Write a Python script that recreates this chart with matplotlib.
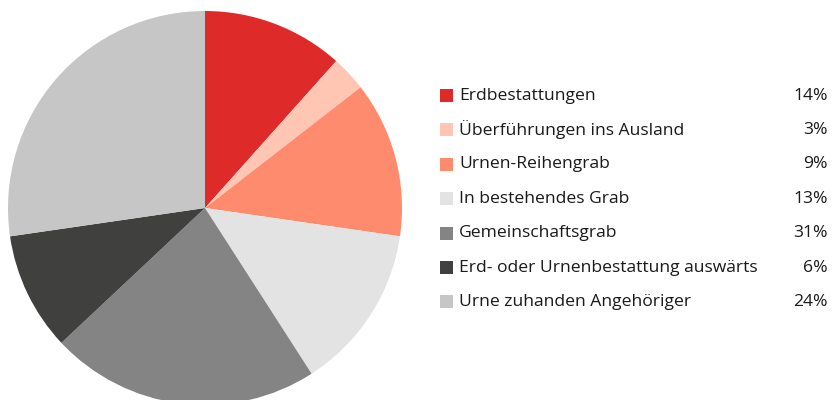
import matplotlib
matplotlib.use("Agg")
import matplotlib.pyplot as plt
from matplotlib.patches import Rectangle

plt.rcParams["font.family"] = ["Open Sans", "DejaVu Sans"]

labels = ["Erdbestattungen", "Überführungen ins Ausland", "Urnen-Reihengrab",
          "In bestehendes Grab", "Gemeinschaftsgrab",
          "Erd- oder Urnenbestattung auswärts", "Urne zuhanden Angehöriger"]
# legend percentages as printed
pct_labels = ["14%", "3%", "9%", "13%", "31%", "6%", "24%"]
# slice sizes as drawn in the picture (they differ from the printed numbers)
slice_vals = [11.6, 2.9, 12.8, 13.6, 22.1, 9.7, 27.3]
colors = ["#df2a2a", "#ffc7b3", "#ff8b6f", "#e3e3e3", "#848484", "#40403f", "#c6c6c6"]

W, H = 833, 400
fig = plt.figure(figsize=(W / 100, H / 100), dpi=100)

# pie: centre (205,208), radius 197 px
ax = fig.add_axes([8 / W, (H - 405) / H, 394 / W, 394 / H])
ax.pie(slice_vals, colors=colors, startangle=90, counterclock=False,
       radius=1, wedgeprops=dict(linewidth=0))
ax.set_xlim(-1, 1); ax.set_ylim(-1, 1)
ax.set_aspect("equal")
ax.axis("off")

# legend in pixel coords
lg = fig.add_axes([0, 0, 1, 1])
lg.set_xlim(0, W); lg.set_ylim(H, 0); lg.axis("off")
y0, dy = 95.5, 34.4
for i, (lab, p, c) in enumerate(zip(labels, pct_labels, colors)):
    y = y0 + i * dy
    lg.add_patch(Rectangle((440, y - 6.5), 13, 13, color=c, lw=0))
    lg.text(459, y, lab, va="center", ha="left", fontsize=12.6, color="#1a1a1a")
    lg.text(828, y, p, va="center", ha="right", fontsize=12.6, color="#1a1a1a")

fig.savefig("out.png", dpi=100)
